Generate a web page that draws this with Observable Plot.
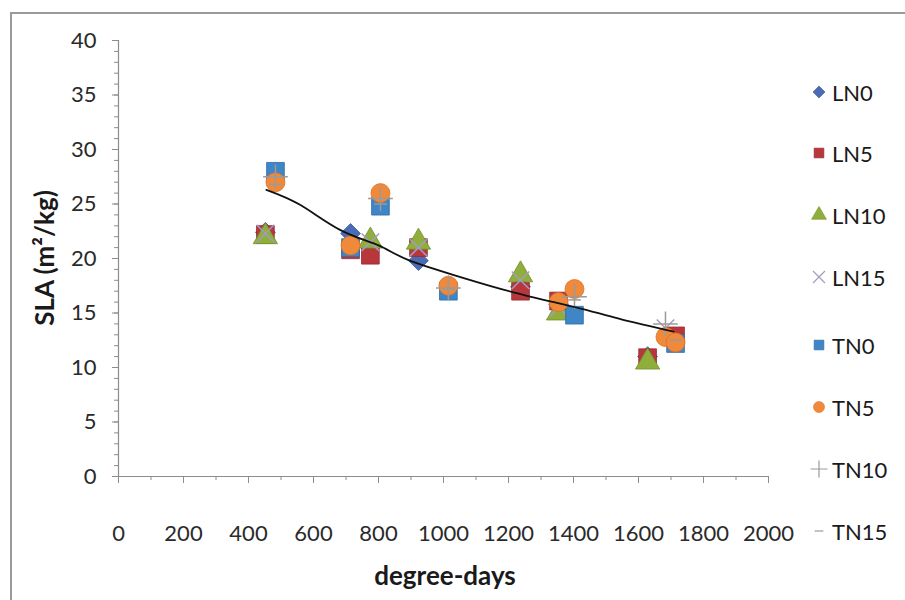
<!DOCTYPE html>
<html>
<head>
<meta charset="utf-8">
<script src="https://cdn.jsdelivr.net/npm/d3@7"></script>
<script src="https://cdn.jsdelivr.net/npm/@observablehq/plot@0.6"></script>
<style>
  body { margin: 0; background: #fff; font-family: Lato, "Open Sans", sans-serif; }
  #wrap { position: relative; width: 905px; height: 600px; overflow: hidden; background: #fff; }
  #frame { position: absolute; left: 10px; top: 12px; width: 900px; height: 600px; border-left: 2px solid #9a9a9a; border-top: 2px solid #9a9a9a; box-sizing: border-box; }
  #chart { position: absolute; left: 0; top: 0; }
  .lab { position: absolute; font-weight: bold; color: #1a1a1a; font-size: 26px; white-space: nowrap; }
  #ylab { left: 44px; top: 258px; transform: translate(-50%, -50%) rotate(-90deg); }
  #xlab { left: 445px; top: 575px; transform: translate(-50%, -50%); }
  .leg { position: absolute; display: flex; align-items: center; font-size: 22px; color: #1a1a1a; }
  .leg svg { margin-right: 2px; }
</style>
</head>
<body>
<div id="wrap">
  <div id="frame"></div>
  <div id="chart"></div>
  <div class="lab" id="ylab">SLA (m²/kg)</div>
  <div class="lab" id="xlab">degree-days</div>
  <div id="legend"></div>
</div>
<script>
// ---- data ----
const seriesNames = ["LN0", "LN5", "LN10", "LN15", "TN0", "TN5", "TN10", "TN15"];

const LN0_x = [452, 714, 923, 1237, 1354, 1628];
const LN0_y = [22.4, 22.3, 19.8, 17.4, 15.8, 11.0];
const LN5_x = [452, 714, 775, 923, 1237, 1354, 1628, 1714];
const LN5_y = [22.2, 20.8, 20.3, 21.0, 17.0, 16.1, 10.9, 12.9];
const LN10_x = [452, 775, 923, 1237, 1354, 1628];
const LN10_y = [22.0, 21.6, 21.5, 18.5, 15.0, 10.5];
const LN15_x = [452, 775, 923, 1237, 1354, 1683];
const LN15_y = [22.3, 21.5, 21.0, 18.0, 15.5, 13.6];
const TN0_x = [483, 714, 806, 1015, 1403, 1714];
const TN0_y = [28.0, 21.0, 24.8, 17.0, 14.8, 12.2];
const TN5_x = [483, 714, 806, 1015, 1354, 1403, 1683, 1714];
const TN5_y = [27.0, 21.2, 26.0, 17.5, 16.0, 17.2, 12.8, 12.3];
const TN10_x = [483, 806, 1015, 1403, 1683];
const TN10_y = [27.5, 25.5, 17.3, 16.5, 14.0];
const TN15_x = [483, 806, 1015, 1403, 1714];
const TN15_y = [26.8, 25.0, 17.2, 16.2, 12.5];

// trend line
const trend_x = [455, 560, 683, 800, 889, 1052, 1215, 1422, 1550, 1708];
const trend_y = [26.3, 24.9, 22.6, 21.2, 19.9, 18.3, 16.9, 15.4, 14.4, 13.3];

const xTicks = [0, 200, 400, 600, 800, 1000, 1200, 1400, 1600, 1800, 2000];
const yTicks = [0, 5, 10, 15, 20, 25, 30, 35, 40];

// ---- styles ----
const dash = { draw(ctx, size) { const w = Math.sqrt(size) * 0.45; ctx.moveTo(-w, 0); ctx.lineTo(w, 0); } };
const rotSquare = { draw(ctx, size) { const w = Math.sqrt(size) * 0.62; ctx.moveTo(0, -w); ctx.lineTo(w, 0); ctx.lineTo(0, w); ctx.lineTo(-w, 0); ctx.closePath(); } };
const styles = {
  LN0:  { symbol: rotSquare, fill: "#4a6cb5", stroke: "#3a5796", r: 9 },
  LN5:  { symbol: d3.symbolSquare, fill: "#b8373d", stroke: "#952a30", r: 10 },
  LN10: { symbol: d3.symbolTriangle, fill: "#8fae3c", stroke: "#71902b", r: 9 },
  LN15: { symbol: d3.symbolTimes, fill: "none", stroke: "#a49cc0", r: 8, line: true },
  TN0:  { symbol: d3.symbolSquare, fill: "#3f86c6", stroke: "#2f6ca6", r: 10 },
  TN5:  { symbol: d3.symbolCircle, fill: "#f0893a", stroke: "#d9742a", r: 9.5 },
  TN10: { symbol: d3.symbolPlus, fill: "none", stroke: "#9a9a9a", r: 8, line: true },
  TN15: { symbol: dash, fill: "none", stroke: "#9a9a9a", r: 8, line: true }
};
const xs = { LN0: LN0_x, LN5: LN5_x, LN10: LN10_x, LN15: LN15_x, TN0: TN0_x, TN5: TN5_x, TN10: TN10_x, TN15: TN15_x };
const ys = { LN0: LN0_y, LN5: LN5_y, LN10: LN10_y, LN15: LN15_y, TN0: TN0_y, TN5: TN5_y, TN10: TN10_y, TN15: TN15_y };

const trend = trend_x.map((x, i) => ({ x, y: trend_y[i] }));

const dotMarks = seriesNames.map(name => {
  const s = styles[name];
  const data = xs[name].map((x, i) => ({ x, y: ys[name][i] }));
  return Plot.dot(data, {
    x: "x", y: "y", r: s.r, symbol: () => s.symbol,
    fill: s.fill, stroke: s.stroke, strokeWidth: s.line ? 1.5 : 0.8
  });
});

const axisColor = "#8c8c8c";
const chart = Plot.plot({
  width: 905,
  height: 600,
  marginLeft: 118,
  marginRight: 137,
  marginTop: 40,
  marginBottom: 124,
  style: { fontFamily: "Lato, 'Open Sans', sans-serif", background: "transparent", overflow: "visible" },
  x: { domain: [0, 2000] },
  y: { domain: [0, 40] },
  marks: [
    // minor ticks
    Plot.axisY({ ticks: d3.range(0, 41, 1), tickSize: 4, tickFormat: () => "", stroke: axisColor, label: null }),
    Plot.axisX({ ticks: d3.range(0, 2001, 100), tickSize: 4, tickFormat: () => "", stroke: axisColor, label: null }),
    // major ticks & labels
    Plot.axisY({ ticks: yTicks, tickSize: 6, tickPadding: 16, fontSize: 22, tickFormat: d3.format("d"), color: "#2a2a2a", stroke: axisColor, label: null }),
    Plot.axisX({ ticks: xTicks, tickSize: 7, tickPadding: 42, fontSize: 22, tickFormat: d3.format("d"), color: "#2a2a2a", stroke: axisColor, label: null }),
    Plot.ruleX([0], { stroke: axisColor, strokeWidth: 1.2 }),
    Plot.ruleY([0], { stroke: axisColor, strokeWidth: 1.2 }),
    ...dotMarks,
    Plot.line(trend, { x: "x", y: "y", curve: "natural", stroke: "#111", strokeWidth: 1.8 })
  ]
});
document.getElementById("chart").appendChild(chart);

// ---- legend ----
const legendTop = [92, 153, 215, 277, 345, 407, 469, 531];
const leg = document.getElementById("legend");
seriesNames.forEach((name, i) => {
  const s = styles[name];
  const div = document.createElement("div");
  div.className = "leg";
  div.style.left = "806px";
  div.style.top = (legendTop[i] - 14) + "px";
  const svg = d3.create("svg").attr("width", 24).attr("height", 28);
  svg.append("path")
    .attr("transform", "translate(13,14)")
    .attr("d", d3.symbol(s.symbol, Math.PI * 5.5 * 5.5)())
    .attr("fill", s.fill)
    .attr("stroke", s.stroke)
    .attr("stroke-width", s.line ? 1.2 : 0.6);
  div.appendChild(svg.node());
  const t = document.createElement("span");
  t.textContent = name;
  div.appendChild(t);
  leg.appendChild(div);
});
</script>
</body>
</html>
